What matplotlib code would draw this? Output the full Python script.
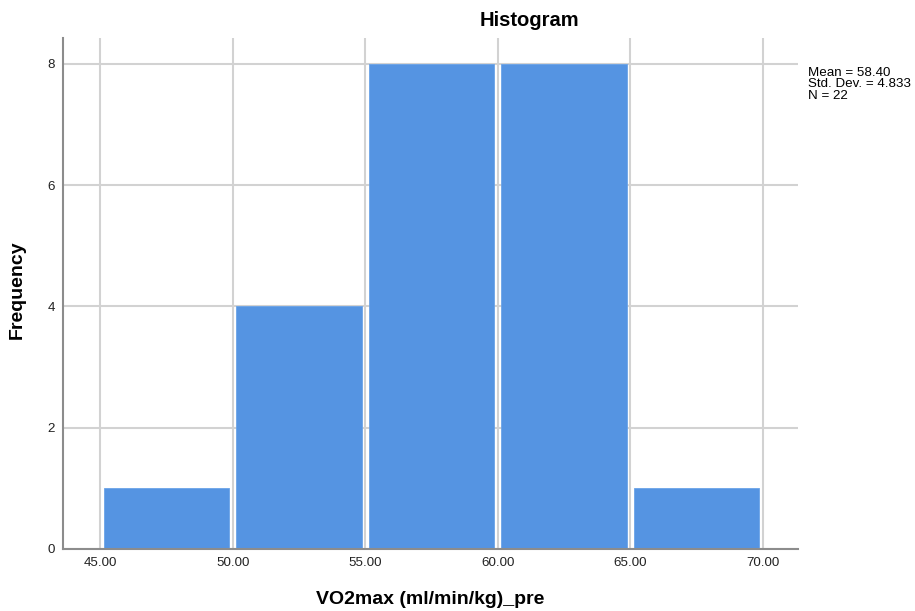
import matplotlib
matplotlib.use('Agg')
import matplotlib.pyplot as plt

plt.rcParams['font.family'] = ['Liberation Sans', 'DejaVu Sans']

# Histogram data
bin_edges = [45.0, 50.0, 55.0, 60.0, 65.0, 70.0]
counts = [1, 4, 8, 8, 1]
x_ticks = [45.0, 50.0, 55.0, 60.0, 65.0, 70.0]
y_ticks = [0, 2, 4, 6, 8]
stats_text = 'Mean = 58.40\nStd. Dev. = 4.833\nN = 22'

BAR_COLOR = '#5594e2'
GRID_COLOR = '#d2d2d2'
SPINE_COLOR = '#8c8c8c'
INSET = 0.14  # gap between bar and bin edge, in data units

fig = plt.figure(figsize=(9.15, 6.11), dpi=100)
ax = fig.add_axes([0.0689, 0.1015, 0.803, 0.8365])

lefts = [a + INSET for a in bin_edges[:-1]]
widths = [b - a - 2 * INSET for a, b in zip(bin_edges[:-1], bin_edges[1:])]
ax.bar(lefts, counts, width=widths, align='edge',
       color=BAR_COLOR, edgecolor='#6aa3e8', linewidth=0.6, zorder=3)

ax.set_xlim(43.6, 71.32)
ax.set_ylim(0, 8.43)
ax.set_xticks(x_ticks)
ax.set_xticklabels([f'{v:.2f}' for v in x_ticks])
ax.set_yticks(y_ticks)
ax.tick_params(length=0, labelsize=9.6, pad=6, colors='#222222')

ax.grid(True, color=GRID_COLOR, linewidth=1.5, zorder=0)
ax.spines['top'].set_visible(False)
ax.spines['right'].set_visible(False)
for s in ('left', 'bottom'):
    ax.spines[s].set_color(SPINE_COLOR)
    ax.spines[s].set_linewidth(1.5)
    ax.spines[s].set_zorder(4)

# axis titles placed in figure pixels so they stay inside the canvas
fig.text(430 / 915, 1 - 599 / 611, 'VO2max (ml/min/kg)_pre', fontsize=14,
         fontweight='bold', ha='center', va='center')
fig.text(17 / 915, 1 - 290 / 611, 'Frequency', fontsize=14, fontweight='bold',
         ha='center', va='center', rotation=90)

fig.text(529 / 915, 1 - 20 / 611, 'Histogram', fontsize=14.5, fontweight='bold',
         ha='center', va='center')
fig.text(808 / 915, 1 - 67 / 611, stats_text, fontsize=9.6, ha='left', va='top',
         linespacing=0.94)

fig.savefig('out.png', dpi=100)
